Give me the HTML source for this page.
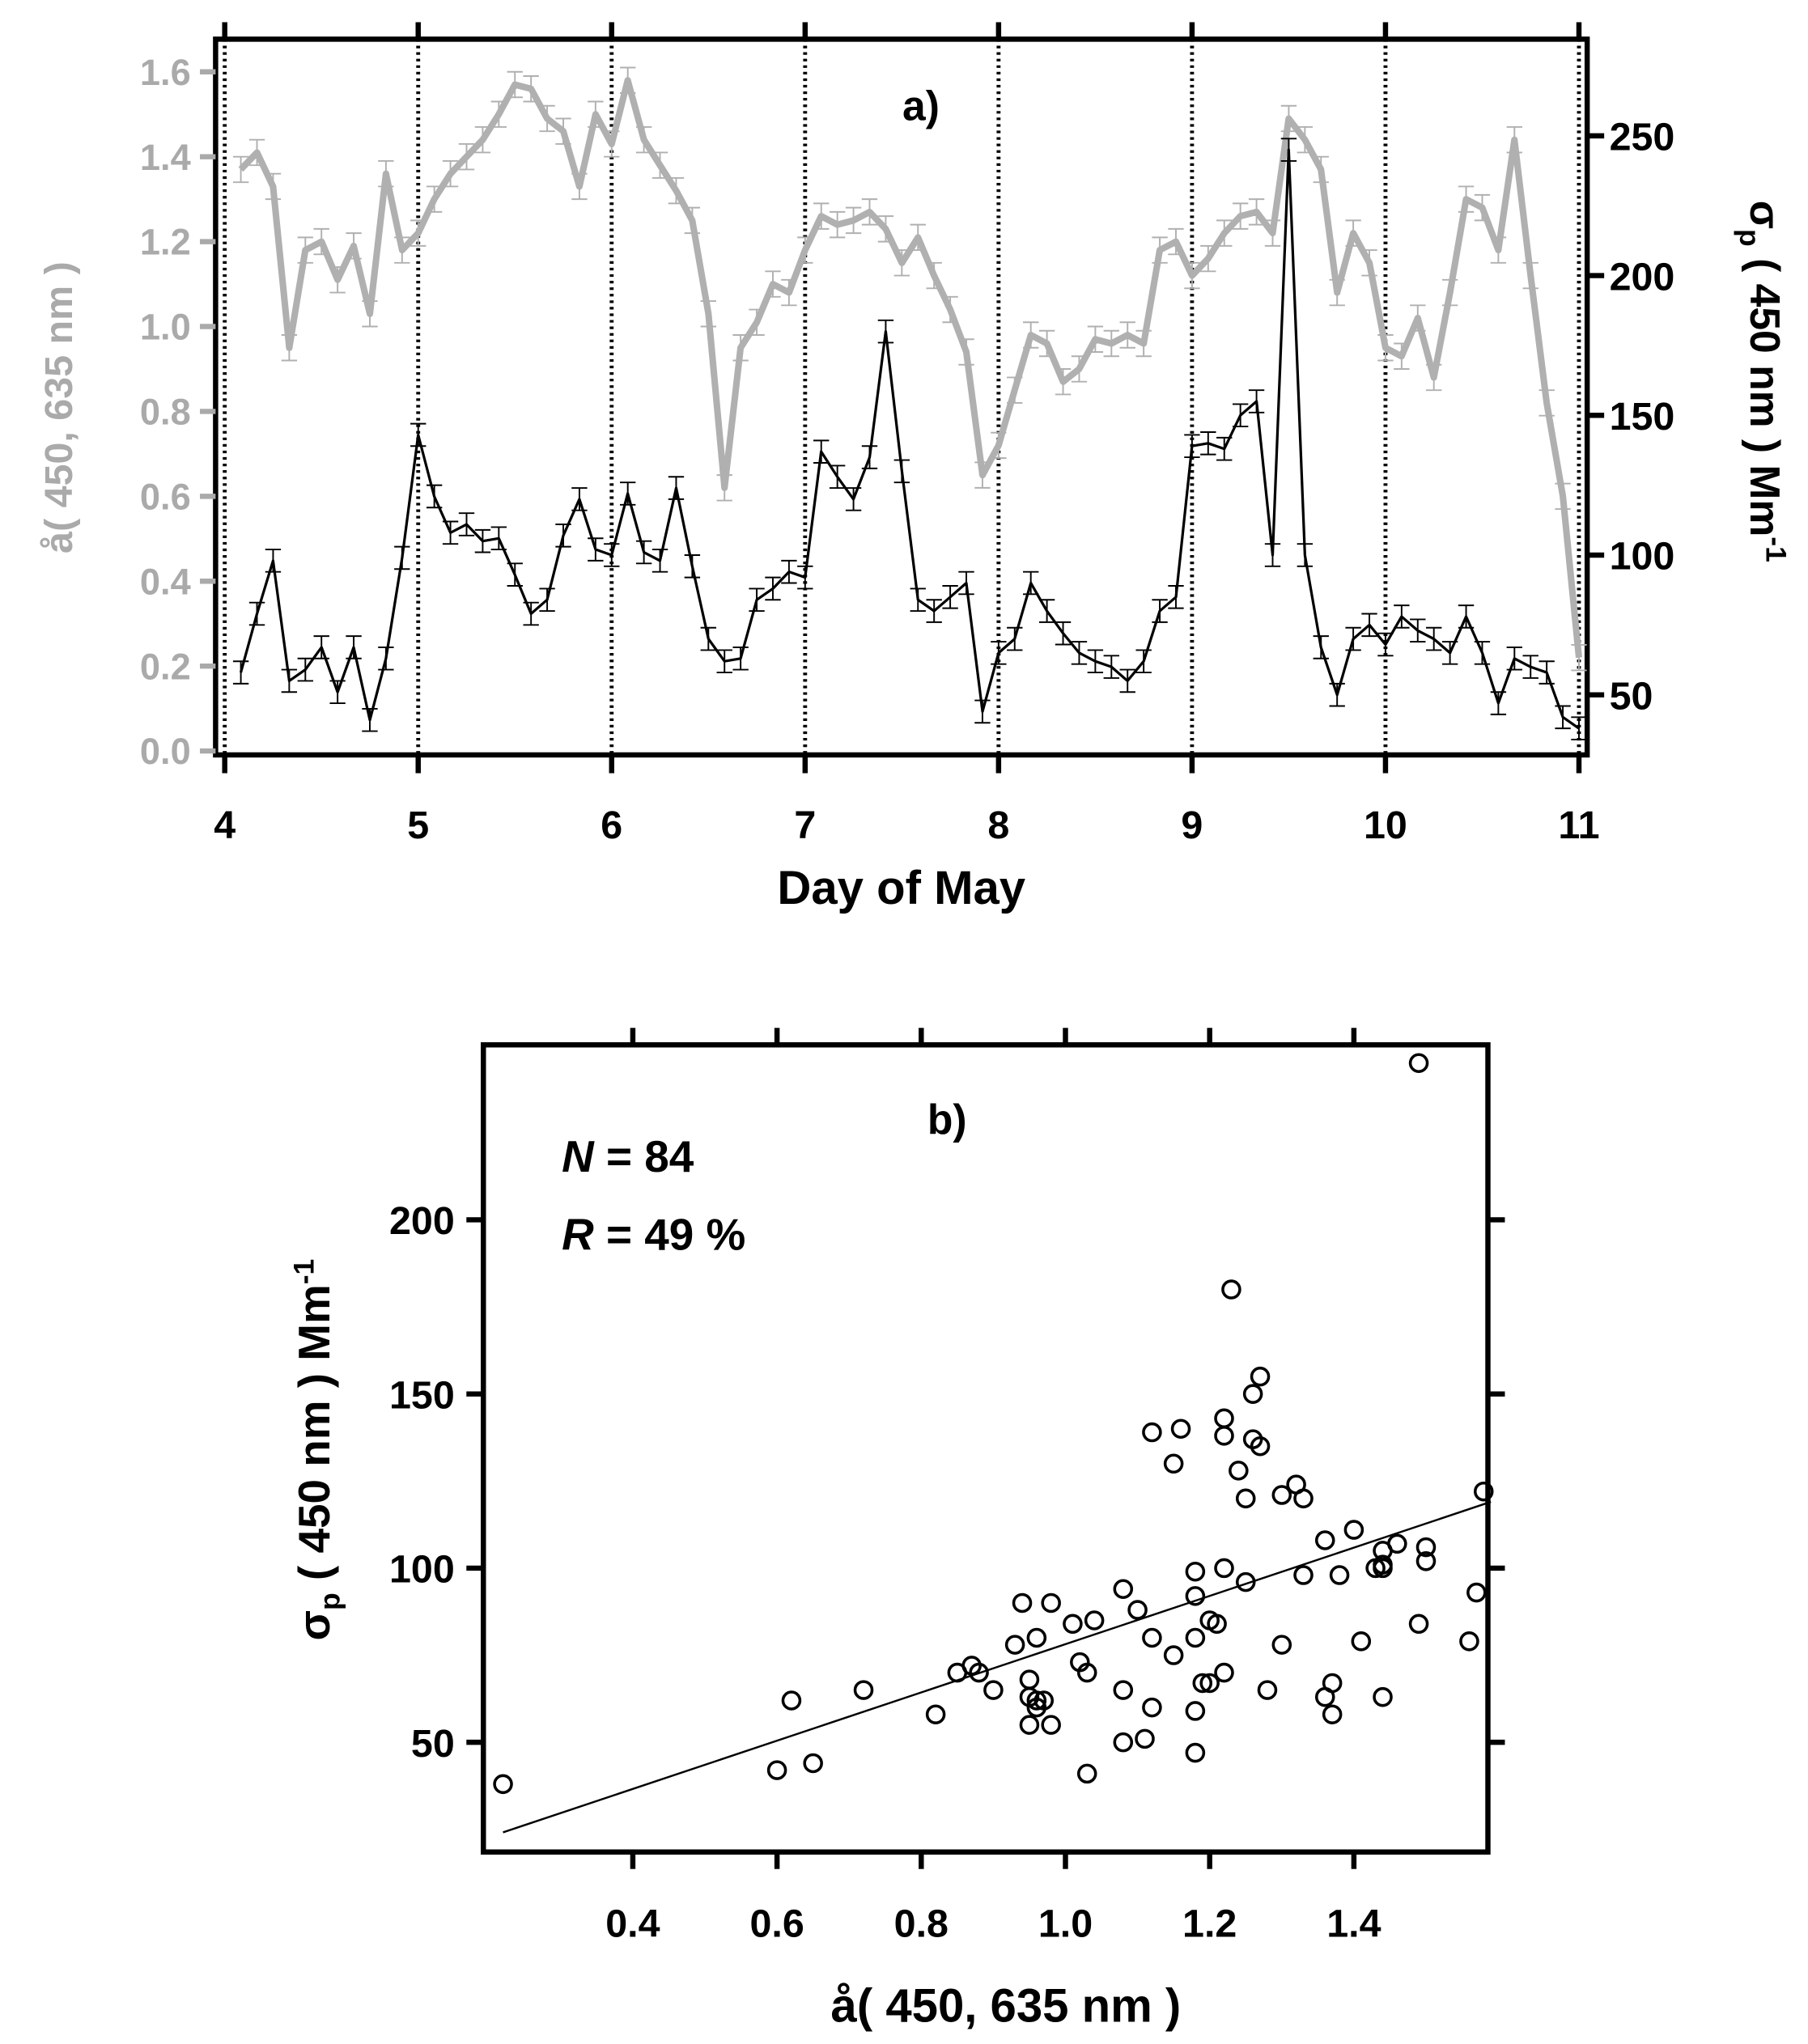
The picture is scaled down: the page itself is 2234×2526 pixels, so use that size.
<!DOCTYPE html>
<html><head><meta charset="utf-8"><style>
html,body{margin:0;padding:0;background:#fff}
svg{display:block}
text{font-family:"Liberation Sans",Arial,sans-serif;font-weight:bold}
</style></head><body>
<svg id="c" width="2234" height="2526" viewBox="0 0 1384 1565" xmlns="http://www.w3.org/2000/svg">
<g id="pa"></g>
<g id="pb"></g>
</svg>
<script>
const days=[4,5,6,7,8,9,10,11];
const angTicks=[0.0,0.2,0.4,0.6,0.8,1.0,1.2,1.4,1.6];
const sigTicks=[50,100,150,200,250];
const scatXTicks=[0.4,0.6,0.8,1.0,1.2,1.4];
const scatYTicks=[50,100,150,200];
const angstrom=[1.37,1.41,1.33,0.95,1.18,1.20,1.11,1.19,1.03,1.36,1.18,1.22,
1.30,1.36,1.40,1.44,1.50,1.57,1.56,1.49,1.46,1.33,1.50,1.43,
1.58,1.44,1.38,1.32,1.25,1.03,0.62,0.95,1.01,1.10,1.08,1.18,
1.26,1.24,1.25,1.27,1.23,1.15,1.21,1.12,1.04,0.94,0.65,0.72,
0.85,0.98,0.96,0.87,0.90,0.97,0.96,0.98,0.96,1.18,1.20,1.12,
1.16,1.22,1.26,1.27,1.22,1.49,1.44,1.37,1.08,1.22,1.15,0.95,
0.93,1.02,0.88,1.08,1.30,1.28,1.18,1.44,1.12,0.82,0.60,0.22];
const sigma=[58,79,98,55,59,67,51,67,41,63,99,143,
121,108,111,105,106,93,79,84,107,120,102,100,
122,101,98,124,96,70,62,63,84,88,94,92,
137,128,120,135,180,130,84,80,85,90,44,65,
70,90,80,72,65,62,60,55,62,80,85,139,
140,138,150,155,100,245,100,67,50,70,75,68,
78,73,70,65,78,65,47,63,60,58,42,38];
const NS="http://www.w3.org/2000/svg";
function mk(p,t,a,txt){const e=document.createElementNS(NS,t);for(const k in a)e.setAttribute(k,a[k]);if(txt!==undefined)e.textContent=txt;p.appendChild(e);return e;}
const pa=document.getElementById('pa'),pb=document.getElementById('pb');
// panel a scales
const X=d=>172+(d-4)*148.1;
const YL=v=>575-v*325;
const YR=v=>532-(v-50)*2.14;
const tOf=i=>4+(i+1)/12;
// frame
let e=mk(pa,'rect',{x:165,y:30,width:1050,height:548,fill:'none',stroke:'#000','stroke-width':4});


days.forEach(d=>{
 let l=mk(pa,'line',{x1:X(d),x2:X(d),y1:30,y2:578,stroke:'#000','stroke-width':3,'stroke-dasharray':'2 3'});
 
 
 mk(pa,'line',{x1:X(d),x2:X(d),y1:17,y2:30,stroke:'#000','stroke-width':4});
 mk(pa,'line',{x1:X(d),x2:X(d),y1:578,y2:592,stroke:'#000','stroke-width':4});
 let t=mk(pa,'text',{x:X(d),y:642,'font-size':30,'text-anchor':'middle'},String(d));
 
 
});
angTicks.forEach(v=>{
 mk(pa,'line',{x1:153,x2:165,y1:YL(v),y2:YL(v),stroke:'#aaa','stroke-width':4});
 let t=mk(pa,'text',{x:146,y:YL(v)+10,'font-size':28,'text-anchor':'end',fill:'#aaa'},v.toFixed(1));
 
 
});
sigTicks.forEach(v=>{
 mk(pa,'line',{x1:1215,x2:1228,y1:YR(v),y2:YR(v),stroke:'#000','stroke-width':4});
 let t=mk(pa,'text',{x:1232,y:YR(v)+11,'font-size':30},String(v));
 
 
});
function series(vals,Y,col,w,err,name){
 let pts=vals.map((v,i)=>X(tOf(i)).toFixed(1)+','+Y(v).toFixed(1)).join(' ');
 vals.forEach((v,i)=>{const x=X(tOf(i));const y1=Y(v-err),y2=Y(v+err);
  mk(pa,'path',{d:`M${x},${y1}V${y2}M${x-6},${y1}H${x+6}M${x-6},${y2}H${x+6}`,stroke:col,'stroke-width':1.2,fill:'none'});});
 let p=mk(pa,'polyline',{points:pts,fill:'none',stroke:col,'stroke-width':w,'stroke-linejoin':'round'});
 
 
}
series(angstrom,YL,'#b0b0b0',5,0.03,'angstrom-line');
series(sigma,YR,'#000',2,4,'sigma-line');
e=mk(pa,'text',{x:705,y:92,'font-size':32,'text-anchor':'middle'},'a)');


e=mk(pa,'text',{x:690,y:692,'font-size':36,'text-anchor':'middle'},'Day of May');


e=mk(pa,'text',{x:0,y:0,'font-size':30,'text-anchor':'middle',fill:'#aaa',transform:'translate(55,312) rotate(-90)'},'å( 450, 635 nm )');


e=mk(pa,'text',{x:0,y:0,'font-size':32,'text-anchor':'middle',transform:'translate(1340,292) rotate(90)'});
e.innerHTML='σ<tspan font-size="22" dy="8">p</tspan><tspan dy="-8"> ( 450 nm ) Mm</tspan><tspan font-size="22" dy="-12">-1</tspan>';


// panel b
const BX=v=>374+(v-0.2)*552;
const BY=v=>1334-(v-50)*2.667;
e=mk(pb,'rect',{x:370,y:800,width:769,height:618,fill:'none',stroke:'#000','stroke-width':4});


scatXTicks.forEach(v=>{
 mk(pb,'line',{x1:BX(v),x2:BX(v),y1:787,y2:800,stroke:'#000','stroke-width':4});
 mk(pb,'line',{x1:BX(v),x2:BX(v),y1:1418,y2:1431,stroke:'#000','stroke-width':4});
 let t=mk(pb,'text',{x:BX(v),y:1483,'font-size':30,'text-anchor':'middle'},v.toFixed(1));
 
 
});
scatYTicks.forEach(v=>{
 mk(pb,'line',{x1:357,x2:370,y1:BY(v),y2:BY(v),stroke:'#000','stroke-width':4});
 mk(pb,'line',{x1:1139,x2:1152,y1:BY(v),y2:BY(v),stroke:'#000','stroke-width':4});
 let t=mk(pb,'text',{x:348,y:BY(v)+11,'font-size':30,'text-anchor':'end'},String(v));
 
 
});
angstrom.forEach((a,i)=>{
 let c=mk(pb,'circle',{cx:BX(a),cy:BY(sigma[i]),r:6.5,fill:'none',stroke:'#000','stroke-width':2.2});
 
 
});
// least squares fit
const n=angstrom.length;let mx=0,my=0;angstrom.forEach((a,i)=>{mx+=a;my+=sigma[i];});mx/=n;my/=n;
let sxy=0,sxx=0;angstrom.forEach((a,i)=>{sxy+=(a-mx)*(sigma[i]-my);sxx+=(a-mx)*(a-mx);});
const sl=sxy/sxx,ic=my-sl*mx;const xa=Math.min(...angstrom),xb=Math.max(...angstrom)+0.01;
e=mk(pb,'line',{x1:BX(xa),y1:BY(ic+sl*xa),x2:BX(xb),y2:BY(ic+sl*xb),stroke:'#000','stroke-width':1.5});


e=mk(pb,'text',{x:725,y:868,'font-size':32,'text-anchor':'middle'},'b)');


e=mk(pb,'text',{x:430,y:897,'font-size':34});
e.innerHTML='<tspan font-style="italic">N</tspan> = 84';


e=mk(pb,'text',{x:430,y:957,'font-size':34});
e.innerHTML='<tspan font-style="italic">R</tspan> = 49 %';


e=mk(pb,'text',{x:770,y:1548,'font-size':36,'text-anchor':'middle'},'å( 450, 635 nm )');


e=mk(pb,'text',{x:0,y:0,'font-size':34,'text-anchor':'middle',transform:'translate(252,1110) rotate(-90)'});
e.innerHTML='σ<tspan font-size="22" dy="8">p</tspan><tspan dy="-8">  ( 450 nm ) Mm</tspan><tspan font-size="22" dy="-12">-1</tspan>';


</script>
</body></html>
